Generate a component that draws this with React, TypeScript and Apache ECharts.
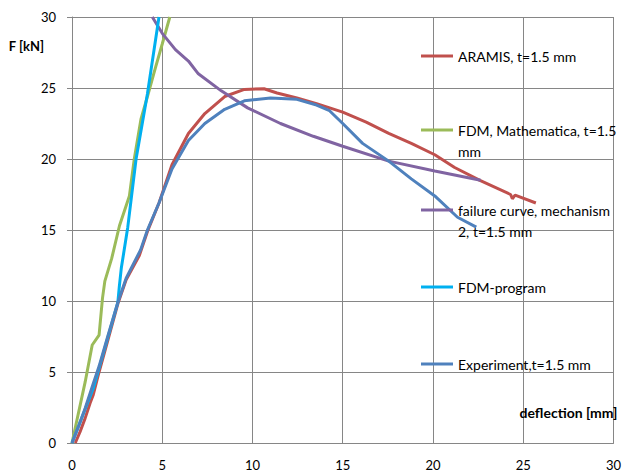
import React, { useEffect, useRef } from "react";
import * as echarts from "echarts";

const xTicks = [0, 5, 10, 15, 20, 25, 30];
const yTicks = [0, 5, 10, 15, 20, 25, 30];

const seriesNames = [
  "ARAMIS, t=1.5 mm",
  "FDM, Mathematica, t=1.5\nmm",
  "failure curve, mechanism\n2, t=1.5 mm",
  "FDM-program",
  "Experiment,t=1.5 mm",
];

const seriesColors = ["#C0504D", "#9BBB59", "#8064A2", "#00B0F0", "#4F81BD"];

const aramis = [
  [0.18, 0], [0.45, 0.8], [0.73, 1.75], [1.0, 2.8], [1.18, 3.4], [1.5, 5.0],
  [2.0, 7.3], [2.54, 9.8], [3.0, 11.5], [3.73, 13.2], [4.18, 14.9], [4.82, 16.9],
  [5.54, 19.6], [6.45, 21.8], [7.36, 23.2], [8.46, 24.4], [9.55, 24.9],
  [10.64, 24.95], [11.36, 24.65], [12.46, 24.3], [13.55, 23.9], [15.0, 23.3],
  [16.3, 22.6], [17.55, 21.8], [18.8, 21.1], [20.1, 20.3], [21.2, 19.4],
  [22.6, 18.5], [24.3, 17.5], [24.4, 17.2], [24.55, 17.45], [25.7, 16.9],
];

const fdmMathematica = [
  [0, 0], [0.73, 4.3], [1.12, 6.9], [1.5, 7.6], [1.69, 10.2], [1.82, 11.4],
  [2.2, 13.0], [2.63, 15.3], [3.18, 17.4], [3.45, 20.0], [3.82, 22.8],
  [4.18, 24.4], [4.64, 26.5], [5.0, 28.1], [5.42, 30.0],
];

const failureCurve = [
  [4.45, 30.0], [5.0, 28.85], [5.73, 27.7], [6.45, 26.9], [7.0, 26.0],
  [8.27, 24.8], [9.73, 23.6], [11.55, 22.5], [13.37, 21.6], [15.0, 20.9],
  [17.55, 19.85], [20.1, 19.15], [22.64, 18.5],
];

const fdmProgram = [
  [0, 0], [1.18, 3.85], [2.54, 9.9], [2.62, 11.0], [2.73, 12.3], [3.09, 15.2],
  [3.55, 20.0], [4.18, 24.6], [4.82, 30.0],
];

const experiment = [
  [0, 0], [0.4, 1.3], [0.73, 2.45], [1.18, 4.2], [1.5, 5.4], [2.0, 7.6],
  [2.54, 9.9], [3.0, 11.6], [3.8, 13.6], [4.18, 15.0], [4.82, 16.9],
  [5.54, 19.3], [6.45, 21.3], [7.36, 22.5], [8.46, 23.5], [9.55, 24.1],
  [11.0, 24.3], [12.46, 24.2], [13.55, 23.8], [14.27, 23.4], [15.0, 22.5],
  [16.1, 21.1], [17.55, 19.85], [18.8, 18.6], [20.1, 17.4], [21.36, 15.9],
  [22.4, 15.2],
];

const seriesData = [aramis, fdmMathematica, failureCurve, fdmProgram, experiment];
const legendTops = [45.5, 98.5, 178.5, 276.5, 353.5];

const FONT = "Lato, 'Open Sans', sans-serif";

export default function App() {
  const ref = useRef<HTMLDivElement>(null);
  useEffect(() => {
    if (!ref.current) return;
    const chart = echarts.init(ref.current, null, { renderer: "svg" });
    const twoLine = (n: string) => n.indexOf("\n") >= 0;
    chart.setOption({
      animation: false,
      backgroundColor: "#ffffff",
      grid: { left: 72, right: 2, top: 17, bottom: 26, containLabel: false },
      xAxis: {
        type: "value",
        min: xTicks[0],
        max: xTicks[xTicks.length - 1],
        interval: 5,
        name: "deflection [mm]",
        nameLocation: "end",
        nameGap: 4,
        nameTextStyle: {
          fontFamily: FONT,
          fontWeight: "bold",
          fontSize: 14,
          color: "#000",
          align: "right",
          verticalAlign: "bottom",
          padding: [0, 0, 24, 0],
        },
        axisLine: { show: true, lineStyle: { color: "#868686", width: 1 } },
        axisTick: { show: false },
        axisLabel: { color: "#000", fontFamily: FONT, fontSize: 13, margin: 15 },
        splitLine: { show: true, lineStyle: { color: "#868686", width: 1 } },
      },
      yAxis: {
        type: "value",
        min: yTicks[0],
        max: yTicks[yTicks.length - 1],
        interval: 5,
        name: "F [kN]",
        nameLocation: "end",
        nameGap: -29,
        nameTextStyle: {
          fontFamily: FONT,
          fontWeight: "bold",
          fontSize: 13,
          color: "#000",
          align: "right",
          verticalAlign: "middle",
          padding: [0, 28, 0, 0],
        },
        axisLine: { show: true, lineStyle: { color: "#868686", width: 1 } },
        axisTick: { show: true, length: 5, lineStyle: { color: "#868686" } },
        axisLabel: { color: "#000", fontFamily: FONT, fontSize: 13, margin: 16 },
        splitLine: { show: true, lineStyle: { color: "#868686", width: 1 } },
      },
      legend: seriesNames.map((n, i) => ({
        data: [n],
        orient: "vertical",
        left: 421,
        top: legendTops[i],
        padding: 0,
        icon: "rect",
        itemWidth: 32,
        itemHeight: 3,
        itemGap: 0,
        selectedMode: false,
        formatter: (name: string) => (twoLine(name) ? "\n" + name : name),
        textStyle: {
          fontFamily: FONT,
          fontSize: 14,
          color: "#000",
          lineHeight: 21,
        },
      })),
      series: seriesNames.map((n, i) => ({
        name: n,
        type: "line",
        data: seriesData[i],
        symbol: "none",
        showSymbol: false,
        smooth: false,
        clip: true,
        lineStyle: { color: seriesColors[i], width: 3 },
        itemStyle: { color: seriesColors[i] },
      })),
    });
    return () => chart.dispose();
  }, []);
  return (
    <div
      ref={ref}
      style={{ position: "fixed", left: 0, top: 0, width: 624, height: 471, background: "#fff" }}
    />
  );
}
